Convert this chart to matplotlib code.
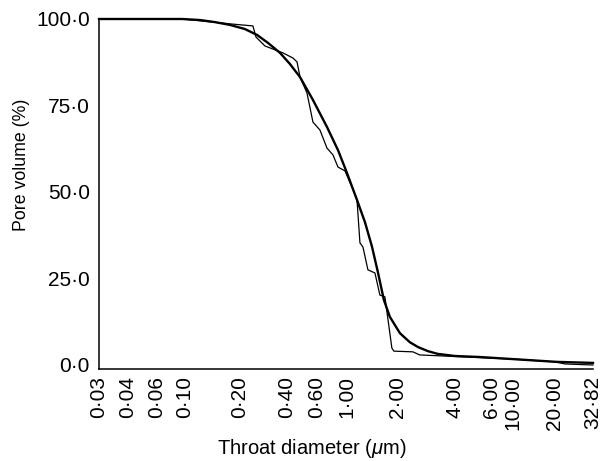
import numpy as np
import matplotlib
matplotlib.use("Agg")
import matplotlib.pyplot as plt

plt.rcParams['font.family'] = ['Liberation Sans', 'DejaVu Sans']
plt.rcParams['mathtext.fontset'] = 'custom'
plt.rcParams['mathtext.it'] = 'Liberation Sans:italic'
plt.rcParams['mathtext.rm'] = 'Liberation Sans'

# fitted (smooth) curve
fit_diam = [0.03, 0.095, 0.121, 0.146, 0.176, 0.215, 0.257, 0.302, 0.361, 0.416,
            0.477, 0.568, 0.711, 0.858, 1.00, 1.146, 1.277, 1.404, 1.524, 1.653,
            1.794, 2.05, 2.31, 2.55, 2.88, 3.25, 4.0, 5.26, 10.0, 20.5, 32.82]
fit_vol = [100.0, 100.0, 99.7, 99.1, 98.3, 97.1, 95.4, 93.1, 90.2, 87.0,
           83.2, 76.6, 68.8, 62.1, 55.5, 47.7, 41.3, 34.3, 26.8, 18.8,
           13.9, 9.2, 6.6, 5.2, 4.0, 3.2, 2.6, 2.3, 1.7, 0.9, 0.6]

# measured (stepped) curve
meas_diam = [0.03, 0.095, 0.176, 0.242, 0.253, 0.289, 0.377, 0.434, 0.458, 0.477,
             0.524, 0.568, 0.631, 0.711, 0.788, 0.858, 0.966, 1.070, 1.146, 1.193,
             1.243, 1.330, 1.463, 1.566, 1.676, 1.843, 1.894, 2.40, 2.61, 4.56,
             10.0, 20.0, 22.8, 32.82]
meas_vol = [100.0, 100.0, 98.6, 98.0, 94.8, 92.2, 90.2, 88.7, 87.6, 83.2,
            78.6, 70.2, 67.9, 62.7, 60.7, 57.2, 56.1, 51.4, 47.7, 35.3,
            34.1, 27.5, 26.6, 20.2, 19.7, 4.9, 4.0, 3.8, 2.9, 2.3,
            1.7, 0.9, 0.3, 0.0]

tick_vals = [0.03, 0.04, 0.06, 0.10, 0.20, 0.40, 0.60, 1.00, 2.00, 4.00, 6.00, 10.00, 20.00, 32.82]
ytick_vals = [0, 25, 50, 75, 100]

# where the printed axis puts each labelled diameter (fraction of axis length)
tick_frac = [0.0, 0.0587, 0.1174, 0.174, 0.2854, 0.3806, 0.4413, 0.502,
             0.605, 0.7206, 0.7955, 0.838, 0.923, 1.0]
log_ticks = np.log10(tick_vals)


def fwd(x):
    x = np.clip(np.asarray(x, dtype=float), 1e-6, None)
    return np.interp(np.log10(x), log_ticks, tick_frac)


def inv(y):
    return 10 ** np.interp(np.asarray(y, dtype=float), tick_frac, log_ticks)


fig = plt.figure(figsize=(6.05, 4.61), dpi=100)
ax = fig.add_axes([99 / 605, 92 / 461, 494 / 605, 350 / 461])
ax.set_xscale('function', functions=(fwd, inv))

ax.plot(meas_diam, meas_vol, color='black', lw=0.9, clip_on=False)
ax.plot(fit_diam, fit_vol, color='black', lw=1.7, clip_on=False,
        solid_joinstyle='round')

ax.set_xlim(0.03, 32.82)
ax.set_ylim(-1.16, 100)

ax.set_xticks(tick_vals)
ax.set_xticklabels([f"{v:.2f}".replace('.', '\u00b7') for v in tick_vals], rotation=90)
ax.xaxis.set_minor_locator(matplotlib.ticker.NullLocator())
ax.set_yticks(ytick_vals)
ax.set_yticklabels([f"{v:.1f}".replace('.', '\u00b7') for v in ytick_vals])
ax.tick_params(axis='x', length=0, pad=5, labelsize=15)
ax.tick_params(axis='y', length=0, pad=6.5, labelsize=15)

for s in ['top', 'right']:
    ax.spines[s].set_visible(False)
for s in ['left', 'bottom']:
    ax.spines[s].set_linewidth(1.1)

ax.set_ylabel('Pore volume (%)', fontsize=12.8)
ax.yaxis.set_label_coords(-0.14, 0.583)
ax.set_xlabel(r'Throat diameter ($\mu$m)', fontsize=14.5)
ax.xaxis.set_label_coords(0.43, -0.193)

fig.savefig('out.png', dpi=100)
